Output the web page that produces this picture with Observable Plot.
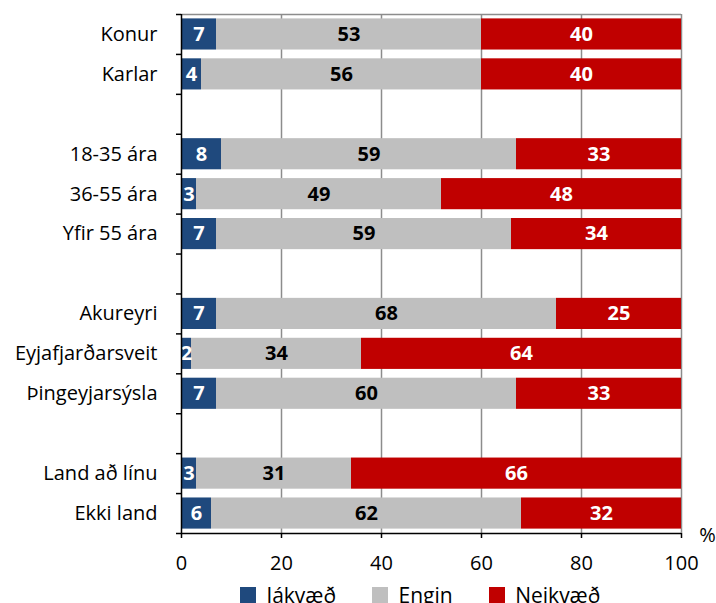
<!DOCTYPE html>
<html>
<head>
<meta charset="utf-8">
<script src="https://cdn.jsdelivr.net/npm/d3@7"></script>
<script src="https://cdn.jsdelivr.net/npm/@observablehq/plot@0.6"></script>
<style>
  body { margin: 0; background: #fff; font-family: "Open Sans", "Liberation Sans", sans-serif; }
  #chart { position: relative; width: 716px; height: 603px; overflow: hidden; }
  #legend { position: absolute; left: 240px; top: 578px; }
  #legend span { margin-right: 36px; }
</style>
</head>
<body>
<div id="chart"></div>
<script>
const groups = ["Konur","Karlar"," ","18-35 ára","36-55 ára","Yfir 55 ára","  ","Akureyri","Eyjafjarðarsveit","Þingeyjarsýsla","   ","Land að línu","Ekki land"];
const respondents = ["Konur","Karlar","18-35 ára","36-55 ára","Yfir 55 ára","Akureyri","Eyjafjarðarsveit","Þingeyjarsýsla","Land að línu","Ekki land"];
const jakvaed =  [7, 4, 8, 3, 7, 7, 2, 7, 3, 6];
const engin =    [53,56,59,49,59,68,34,60,31,62];
const neikvaed = [40,40,33,48,34,25,64,33,66,32];
const seriesNames = ["Jákvæð","Engin","Neikvæð"];
const seriesColors = ["#1F497D","#BFBFBF","#C00000"];
const xTicks = [0,20,40,60,80,100];
const unitLabel = "%";

const rows = [];
respondents.forEach((g, i) => {
  const vals = [jakvaed[i], engin[i], neikvaed[i]];
  let acc = 0;
  vals.forEach((v, k) => {
    rows.push({group: g, series: seriesNames[k], value: v, x1: acc, x2: acc + v, mid: acc + v / 2});
    acc += v;
  });
});

const font = "'Open Sans', 'Liberation Sans', sans-serif";
const lastGroup = groups[groups.length - 1];
const half = 519 / 13 / 2;

const plot = Plot.plot({
  width: 716,
  height: 578,
  marginLeft: 181,
  marginRight: 35,
  marginTop: 14,
  marginBottom: 45,
  style: {fontFamily: font, background: "white", color: "#000", overflow: "visible"},
  x: {domain: [0, 100], ticks: xTicks},
  y: {domain: groups, paddingInner: 0.22, paddingOuter: 0.11, round: false},
  color: {domain: seriesNames, range: seriesColors},
  marks: [
    Plot.ruleX(xTicks.slice(1), {stroke: "#8c8c8c", strokeWidth: 1.5}),
    Plot.ruleY([groups[0]], {x1: 0, x2: 100, dy: -half, stroke: "#8c8c8c", strokeWidth: 1.5}),
    Plot.barX(rows, {y: "group", x1: "x1", x2: "x2", fill: "series"}),
    Plot.text(rows.filter(d => d.series !== "Engin"), {y: "group", x: "mid", text: d => String(d.value), fill: "white", fontWeight: "bold", fontSize: 20}),
    Plot.text(rows.filter(d => d.series === "Engin"), {y: "group", x: "mid", text: d => String(d.value), fill: "black", fontWeight: "bold", fontSize: 20}),
    Plot.ruleX([0], {stroke: "#000", strokeWidth: 1.5}),
    Plot.ruleY([lastGroup], {x1: 0, x2: 100, dy: half, stroke: "#000", strokeWidth: 1.5}),
    Plot.ruleY(groups, {x1: -1, x2: 0, dy: -half, stroke: "#000", strokeWidth: 1.5}),
    Plot.ruleY([lastGroup], {x1: -1, x2: 0, dy: half, stroke: "#000", strokeWidth: 1.5}),
    Plot.axisY({tickSize: 0, tickPadding: 24, fontSize: 20, label: null}),
    Plot.axisX({tickSize: 5, tickPadding: 17, fontSize: 20, label: null, stroke: "#000", strokeWidth: 1.5}),
    Plot.text([{t: unitLabel, g: lastGroup, v: 100}], {x: "v", y: "g", text: "t", dx: 26, dy: half + 2, fontSize: 20, fill: "#000", textAnchor: "middle"})
  ]
});

const chart = document.getElementById("chart");
chart.appendChild(plot);

const legendHolder = document.createElement("div");
legendHolder.id = "legend";
const legend = plot.legend("color", {swatchSize: 16, style: {fontFamily: font, fontSize: "21px"}});
legendHolder.appendChild(legend);
chart.appendChild(legendHolder);
</script>
</body>
</html>
